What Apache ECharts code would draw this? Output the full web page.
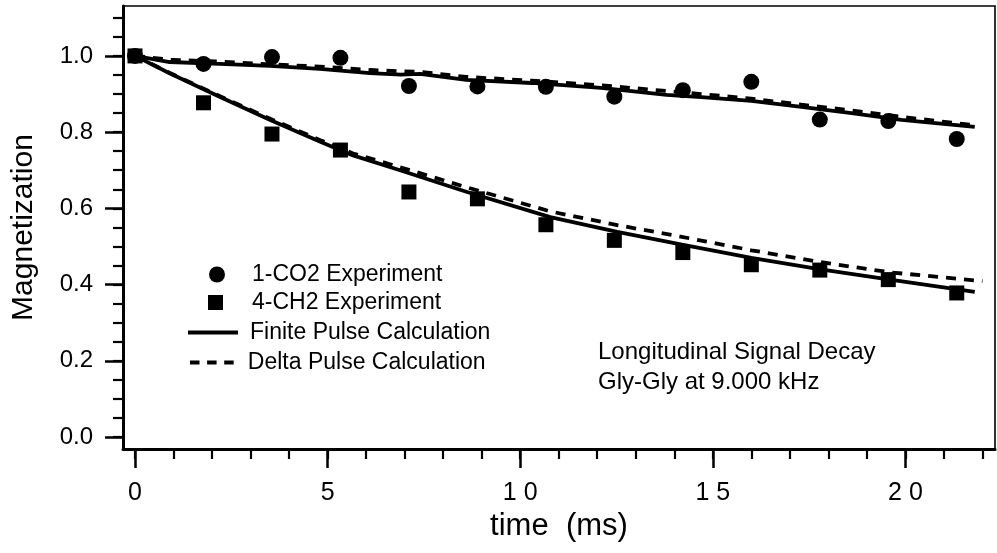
<!DOCTYPE html>
<html>
<head>
<meta charset="utf-8">
<script src="https://cdn.jsdelivr.net/npm/echarts@6/dist/echarts.min.js"></script>
<style>
  html, body { margin: 0; padding: 0; background: #fff; }
  #chart { width: 997px; height: 553px; }
</style>
</head>
<body>
<div id="chart"></div>
<script>
// Sampling times (ms): every 16 rotor periods at 9.000 kHz
const times = [0, 1.778, 3.556, 5.333, 7.111, 8.889, 10.667, 12.444, 14.222, 16.0, 17.778, 19.556, 21.333];

// Measured magnetization
const co2Experiment = [1.0, 0.979, 0.997, 0.995, 0.921, 0.920, 0.919, 0.893, 0.910, 0.932, 0.833, 0.829, 0.782];
const ch2Experiment = [1.0, 0.877, 0.795, 0.753, 0.643, 0.625, 0.557, 0.516, 0.484, 0.452, 0.438, 0.413, 0.378];

// Calculated decay curves [time, magnetization]
const co2Finite = [[0, 1.0], [0.9, 0.984], [2.2, 0.979], [3.5, 0.974], [4.8, 0.966], [6.1, 0.955], [6.9, 0.951], [7.4, 0.953], [8.6, 0.937], [10.3, 0.929], [12.1, 0.916], [13.8, 0.898], [14.7, 0.892], [16.0, 0.882], [17.3, 0.866], [18.6, 0.850], [19.9, 0.832], [21.8, 0.814]];
const co2Delta = [[0, 1.0], [0.9, 0.99], [2.2, 0.985], [3.5, 0.978], [4.8, 0.972], [6.1, 0.963], [7.4, 0.958], [8.6, 0.945], [10.3, 0.935], [12.1, 0.923], [13.8, 0.908], [14.7, 0.900], [16.0, 0.888], [17.3, 0.872], [18.6, 0.857], [19.9, 0.840], [21.8, 0.818]];
const ch2Finite = [[0, 1.0], [0.91, 0.954], [2.21, 0.892], [3.51, 0.832], [4.81, 0.775], [5.66, 0.739], [6.88, 0.700], [8.62, 0.643], [10.78, 0.577], [12.52, 0.538], [14.2, 0.505], [16.0, 0.470], [17.8, 0.440], [19.6, 0.413], [21.8, 0.381]];
const ch2Delta = [[0, 1.0], [0.91, 0.955], [2.21, 0.894], [3.51, 0.835], [4.81, 0.779], [5.66, 0.744], [6.88, 0.708], [8.62, 0.655], [10.78, 0.592], [12.52, 0.556], [14.16, 0.526], [16.0, 0.490], [17.79, 0.459], [19.61, 0.432], [22.0, 0.409]];

// Axis ticks and labels
const xMajorTicks = [0, 5, 10, 15, 20];
const xTickLabels = ['0', '5', '1 0', '1 5', '2 0'];
const xMinorTicks = [0, 1, 2, 3, 4, 5, 6, 7, 8, 9, 10, 11, 12, 13, 14, 15, 16, 17, 18, 19, 20, 21, 22];
const yMajorTicks = [0, 0.2, 0.4, 0.6, 0.8, 1.0];
const yTickLabels = ['0.0', '0.2', '0.4', '0.6', '0.8', '1.0'];
const yMinorTicks = [0, 0.05, 0.1, 0.15, 0.2, 0.25, 0.3, 0.35, 0.4, 0.45, 0.5, 0.55, 0.6, 0.65, 0.7, 0.75, 0.8, 0.85, 0.9, 0.95, 1.0, 1.05, 1.1];

const FONT = "'Liberation Sans', Arial, Helvetica, sans-serif";
const X_MIN = -0.3115, X_MAX = 22.326;
const Y_MIN = -0.0315, Y_MAX = 1.131;

const box = { left: 123, right: 2, top: 6, bottom: 104 };

const NAME_CO2 = '1-CO2 Experiment';
const NAME_CH2 = '4-CH2 Experiment';
const NAME_FINITE = 'Finite Pulse Calculation';
const NAME_DELTA = 'Delta Pulse Calculation';

function pair(xs, ys) { return xs.map((x, i) => [x, ys[i]]); }
function labelFor(ticks, labels) {
  return v => {
    const i = ticks.findIndex(t => Math.abs(t - v) < 1e-6);
    return i >= 0 ? labels[i] : '';
  };
}

// One legend block per entry so each key keeps its own icon size
function legendEntry(name, left, top, w, h, icon, textPad) {
  return {
    orient: 'vertical', left: left, top: top, padding: 0,
    itemWidth: w, itemHeight: h, selectedMode: false,
    data: [{ name: name, icon: icon, itemStyle: { color: '#000', borderWidth: 0 } }],
    textStyle: { fontFamily: FONT, fontSize: 23, color: '#000', padding: [0, 0, 0, textPad] }
  };
}

const chart = echarts.init(document.getElementById('chart'), null, { renderer: 'canvas' });

const lineBase = { type: 'line', xAxisIndex: 0, yAxisIndex: 0, symbol: 'none', showSymbol: false, silent: true, z: 2 };
const solidStyle = { color: '#000', width: 3.8, type: 'solid' };
const dashStyle = { color: '#000', width: 3.8, type: [10, 8] };

chart.setOption({
  animation: false,
  backgroundColor: '#fff',
  textStyle: { fontFamily: FONT, color: '#000' },
  title: {
    text: 'Longitudinal Signal Decay\nGly-Gly at 9.000 kHz',
    left: 598, top: 337, padding: 0,
    textStyle: { fontFamily: FONT, fontSize: 24, fontWeight: 'normal', color: '#000', lineHeight: 30 }
  },
  legend: [
    legendEntry(NAME_CO2, 209, 263, 16, 16, 'circle', 22),
    legendEntry(NAME_CH2, 208, 291, 15, 15, 'rect', 24),
    legendEntry(NAME_FINITE, 188, 321, 50, 3.8, 'rect', 7),
    legendEntry(NAME_DELTA, 190, 351, 48, 3.8, 'path://M0,0h10v4h-10z M18,0h10v4h-10z M36,0h10v4h-10z', 7)
  ],
  grid: [
    Object.assign({ show: true, borderColor: '#000', borderWidth: 1.6, backgroundColor: 'transparent' }, box),
    Object.assign({ show: false }, box)
  ],
  xAxis: [
    {
      type: 'value', gridIndex: 0, min: X_MIN, max: X_MAX,
      name: 'time  (ms)', nameLocation: 'middle', nameGap: 62,
      nameTextStyle: { fontFamily: FONT, fontSize: 31, color: '#000' },
      axisLine: { show: true, onZero: false, lineStyle: { color: '#000', width: 3 } },
      axisTick: { show: true, inside: false, length: 19, customValues: xMajorTicks, lineStyle: { color: '#000', width: 2.5 } },
      axisLabel: { show: true, margin: 32, customValues: xMajorTicks, formatter: labelFor(xMajorTicks, xTickLabels), fontFamily: FONT, fontSize: 25, color: '#000' },
      splitLine: { show: false }
    },
    {
      type: 'value', gridIndex: 1, min: X_MIN, max: X_MAX,
      axisLine: { show: false, onZero: false },
      axisTick: { show: true, inside: false, length: 10, customValues: xMinorTicks, lineStyle: { color: '#000', width: 2.2 } },
      axisLabel: { show: false },
      splitLine: { show: false }
    }
  ],
  yAxis: [
    {
      type: 'value', gridIndex: 0, min: Y_MIN, max: Y_MAX,
      name: 'Magnetization', nameLocation: 'middle', nameGap: 84,
      nameTextStyle: { fontFamily: FONT, fontSize: 30, color: '#000' },
      axisLine: { show: true, onZero: false, lineStyle: { color: '#000', width: 3 } },
      axisTick: { show: true, inside: false, length: 18, customValues: yMajorTicks, lineStyle: { color: '#000', width: 2.5 } },
      axisLabel: { show: true, margin: 30, customValues: yMajorTicks, formatter: labelFor(yMajorTicks, yTickLabels), fontFamily: FONT, fontSize: 24, color: '#000' },
      splitLine: { show: false }
    },
    {
      type: 'value', gridIndex: 1, min: Y_MIN, max: Y_MAX,
      axisLine: { show: false, onZero: false },
      axisTick: { show: true, inside: false, length: 10, customValues: yMinorTicks, lineStyle: { color: '#000', width: 2.2 } },
      axisLabel: { show: false },
      splitLine: { show: false }
    }
  ],
  series: [
    Object.assign({}, lineBase, { name: NAME_FINITE, data: co2Finite, lineStyle: solidStyle, itemStyle: { color: '#000' } }),
    Object.assign({}, lineBase, { name: NAME_DELTA, data: co2Delta, lineStyle: dashStyle, itemStyle: { color: '#000' } }),
    Object.assign({}, lineBase, { name: NAME_FINITE, data: ch2Finite, lineStyle: solidStyle, itemStyle: { color: '#000' } }),
    Object.assign({}, lineBase, { name: NAME_DELTA, data: ch2Delta, lineStyle: dashStyle, itemStyle: { color: '#000' } }),
    {
      name: NAME_CO2, type: 'scatter', xAxisIndex: 0, yAxisIndex: 0,
      symbol: 'circle', symbolSize: 16, z: 4, silent: true,
      itemStyle: { color: '#000', opacity: 1 },
      data: pair(times, co2Experiment)
    },
    {
      name: NAME_CH2, type: 'scatter', xAxisIndex: 0, yAxisIndex: 0,
      symbol: 'rect', symbolSize: 15, z: 5, silent: true,
      itemStyle: { color: '#000', opacity: 1 },
      data: pair(times, ch2Experiment)
    }
  ]
});
</script>
</body>
</html>
